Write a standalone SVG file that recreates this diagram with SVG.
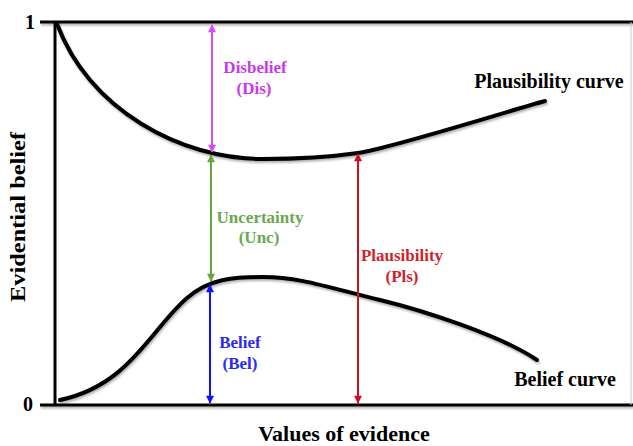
<svg xmlns="http://www.w3.org/2000/svg" width="633" height="446" viewBox="0 0 633 446">
<style>
.t{font-family:"Liberation Serif","Times New Roman",serif;font-weight:bold}
.lbl{font-size:17px;text-anchor:middle}
.ax{stroke:#000;stroke-width:3;fill:none}
.curve{stroke:#000;stroke-width:4;fill:none;stroke-linecap:round;filter:url(#sh)}
.arr{stroke-width:2;fill:none}
</style>
<defs>
<filter id="sh" filterUnits="userSpaceOnUse" x="0" y="0" width="633" height="446">
<feDropShadow dx="1" dy="2" stdDeviation="1.2" flood-color="#000" flood-opacity="0.3"/>
</filter>
<marker id="mM" viewBox="0 0 10 10" refX="9" refY="5" markerUnits="userSpaceOnUse" markerWidth="9" markerHeight="8" orient="auto-start-reverse"><path d="M0,0L10,5L0,10z" fill="#d84cf7"/></marker>
<marker id="mG" viewBox="0 0 10 10" refX="9" refY="5" markerUnits="userSpaceOnUse" markerWidth="9" markerHeight="8" orient="auto-start-reverse"><path d="M0,0L10,5L0,10z" fill="#62a83a"/></marker>
<marker id="mB" viewBox="0 0 10 10" refX="9" refY="5" markerUnits="userSpaceOnUse" markerWidth="9" markerHeight="8" orient="auto-start-reverse"><path d="M0,0L10,5L0,10z" fill="#1010ff"/></marker>
<marker id="mR" viewBox="0 0 10 10" refX="9" refY="5" markerUnits="userSpaceOnUse" markerWidth="9" markerHeight="8" orient="auto-start-reverse"><path d="M0,0L10,5L0,10z" fill="#cc1020"/></marker>
</defs>
<rect width="633" height="446" fill="#fff"/>
<g id="axes">
<line class="ax" x1="40" y1="22" x2="633" y2="22" filter="url(#sh)"/>
<line class="ax" x1="40" y1="405" x2="633" y2="405" filter="url(#sh)"/>
<line class="ax" x1="55" y1="21" x2="55" y2="406"/>
<line x1="631" y1="22" x2="631" y2="405" stroke="#ccc" stroke-width="1"/>
<text class="t" x="30" y="29" font-size="20" text-anchor="middle">1</text>
<text class="t" x="28" y="411" font-size="20" text-anchor="middle">0</text>
<text class="t" x="344" y="441" font-size="22" text-anchor="middle">Values of evidence</text>
<text class="t" font-size="22" text-anchor="middle" textLength="170" lengthAdjust="spacingAndGlyphs" transform="translate(25,217) rotate(-90)">Evidential belief</text>
</g>
<g id="plausibility-curve">
<path class="curve" d="M57,24 C90,110 180,159 263,159 C300,159 330,157 358,153 C390,148.5 515,109 545,101"/>
<text class="t" x="549" y="88" font-size="20" text-anchor="middle">Plausibility curve</text>
</g>
<g id="belief-curve">
<path class="curve" d="M60,400 C130,385 150,330 187,298 C210,278 235,277 263,277 C300,277 330,288 380,300 C420,309.6 500,335 537,360"/>
<text class="t" x="565" y="386" font-size="20" text-anchor="middle">Belief curve</text>
</g>
<g id="connectors">
<line class="arr" x1="212" y1="25" x2="212" y2="152" stroke="#d84cf7" marker-start="url(#mM)" marker-end="url(#mM)"/>
<line class="arr" x1="211" y1="155" x2="211" y2="281" stroke="#62a83a" marker-start="url(#mG)" marker-end="url(#mG)"/>
<line class="arr" x1="210" y1="285" x2="210" y2="403" stroke="#1010ff" marker-start="url(#mB)" marker-end="url(#mB)"/>
<line class="arr" x1="358" y1="154" x2="358" y2="403" stroke="#cc1020" marker-start="url(#mR)" marker-end="url(#mR)"/>
</g>
<g id="label-dis" fill="#c73ae8">
<text class="t lbl" x="255" y="73">Disbelief</text>
<text class="t lbl" x="254" y="94">(Dis)</text>
</g>
<g id="label-unc" fill="#6aa84f">
<text class="t lbl" x="260" y="223">Uncertainty</text>
<text class="t lbl" x="259" y="243">(Unc)</text>
</g>
<g id="label-pls" fill="#d11f2b">
<text class="t lbl" x="402" y="261">Plausibility</text>
<text class="t lbl" x="402" y="282">(Pls)</text>
</g>
<g id="label-bel" fill="#2b2bf0">
<text class="t lbl" x="240" y="348">Belief</text>
<text class="t lbl" x="240" y="369">(Bel)</text>
</g>
</svg>
